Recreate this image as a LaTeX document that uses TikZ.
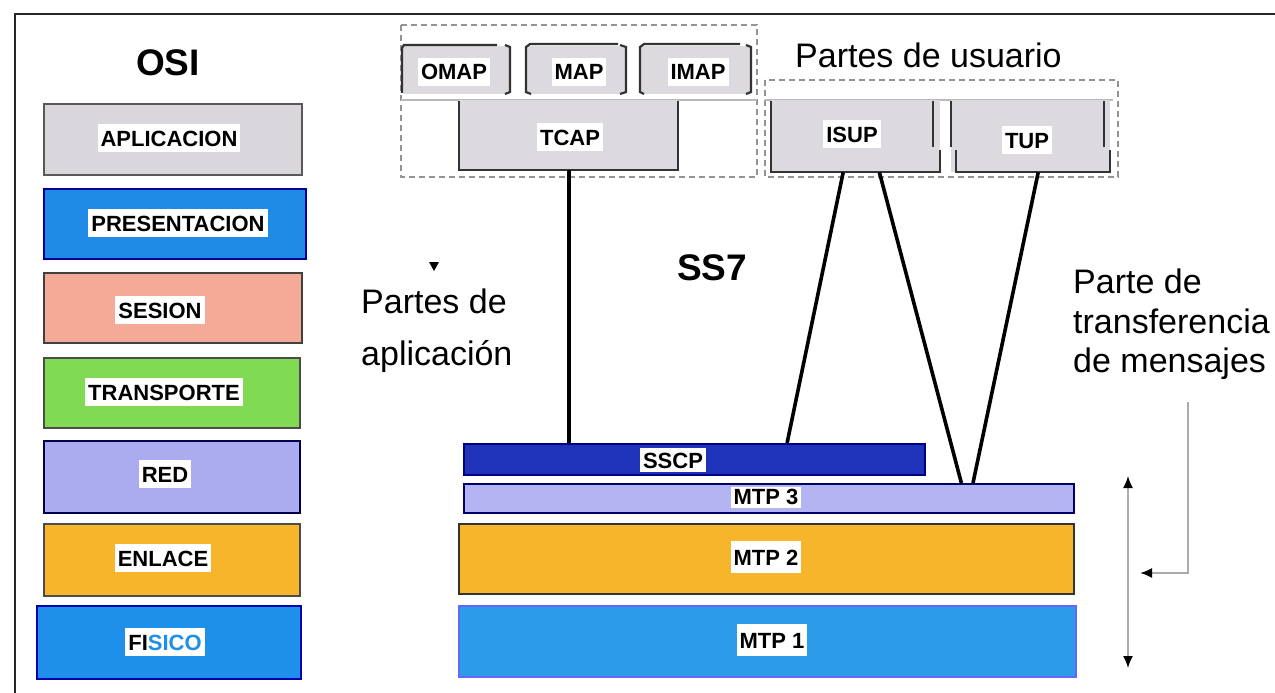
\documentclass[tikz,border=0pt]{standalone}
\usepackage{fontspec}
\setmainfont{Liberation Sans}
\usetikzlibrary{calc,arrows.meta}
\definecolor{aplgray}{HTML}{D9D7DB}
\definecolor{presblue}{HTML}{1F8BE6}
\definecolor{sesion}{HTML}{F5AA97}
\definecolor{transp}{HTML}{80DB52}
\definecolor{redlav}{HTML}{ABABF0}
\definecolor{enlace}{HTML}{F6B52B}
\definecolor{fisico}{HTML}{1E90EA}
\definecolor{sscp}{HTML}{1F33BA}
\definecolor{mtpthree}{HTML}{B4B4F2}
\definecolor{mtpone}{HTML}{2C9BEA}
\definecolor{boxgray}{HTML}{DCDADE}
\begin{document}
\begin{tikzpicture}[x=1pt,y=-1pt,
  >={Latex[black,length=12pt,width=10pt]},
  layerbox/.style={draw=#1, line width=2pt, inner sep=0pt, anchor=north west},
  grayfill/.style={fill=boxgray, draw=none, inner sep=0pt, anchor=north west},
  lbl/.style={fill=white, inner xsep=3pt, inner ysep=6pt, text height=16pt, text depth=0pt,
              font=\fontsize{22}{26}\selectfont\bfseries},
  big/.style={font=\fontsize{37}{44}\selectfont\bfseries, inner sep=0pt},
  txt/.style={font=\fontsize{34}{40}\selectfont, inner sep=0pt, anchor=base west},
  conn/.style={line width=3.6pt, black},
  grp/.style={draw=gray!85, dash pattern=on 6pt off 4pt, line width=1.3pt},
  edge/.style={draw=black!80, line width=2.2pt},
  sep/.style={draw=gray!55, line width=2pt}]
\useasboundingbox (0,0) rectangle (1275,693);
\fill[white] (0,0) rectangle (1275,693);
% frame
\draw[line width=2.4pt, black!85] (15,693) -- (15,14) -- (1275,14);

% OSI column
\node[big] (osi) at (168,63) {OSI};
\node[layerbox=black!65, fill=aplgray, minimum width=258pt, minimum height=71pt] (apl) at (43,103) {};
\node[layerbox=blue!60!black, fill=presblue, minimum width=262pt, minimum height=70pt] (pres) at (43,188) {};
\node[layerbox=black!75, fill=sesion, minimum width=258pt, minimum height=70pt] (ses) at (43,272) {};
\node[layerbox=black!70, fill=transp, minimum width=256pt, minimum height=70pt] (tra) at (43,357) {};
\node[layerbox=blue!30!black, fill=redlav, minimum width=256pt, minimum height=72pt] (red) at (43,440) {};
\node[layerbox=black!70, fill=enlace, minimum width=256pt, minimum height=72pt] (enl) at (43,523) {};
\node[layerbox=blue!70!black, fill=fisico, minimum width=264pt, minimum height=73pt] (fis) at (36,605) {};
\node[lbl] (aplT) at (169,138) {APLICACION};
\node[lbl] (presT) at (178,223) {PRESENTACION};
\node[lbl] (sesT) at (160,310) {SESION};
\node[lbl] (traT) at (164,392) {TRANSPORTE};
\node[lbl] (redT) at (165,474) {RED};
\node[lbl] (enlT) at (163,558) {ENLACE};
\node[lbl] (fisT) at (165,642) {FI\textcolor{fisico}{SICO}};

% application parts group
\draw[grp] (401,25) rectangle (757,177);
\draw[sep] (401,100) -- (757,100);
\node[grayfill, minimum width=107pt, minimum height=48pt] (omap) at (403,46) {};
\node[grayfill, minimum width=100pt, minimum height=48pt] (map) at (526,46) {};
\node[grayfill, minimum width=111pt, minimum height=48pt] (imap) at (640,46) {};
\draw[edge] (402,93) -- (402,48) -- (404,45) -- (497,45);
\draw[edge] (505,45) -- (510,47) -- (510,92) -- (505,94);
\draw[edge] (531,94) -- (526,92) -- (526,47) -- (530,44) -- (618,44);
\draw[edge] (620,45) -- (626,47) -- (626,92) -- (620,94);
\draw[edge] (644,94) -- (640,92) -- (640,47) -- (644,44) -- (740,44);
\draw[edge] (746,45) -- (751,47) -- (751,92) -- (746,94);
\node[lbl] (omapT) at (454,72) {OMAP};
\node[lbl] (mapT) at (579,72) {MAP};
\node[lbl] (imapT) at (698,72) {IMAP};
\node[grayfill, minimum width=219pt, minimum height=70pt] (tcap) at (459,100) {};
\draw[edge] (459,101) |- (678,170) -- (678,101);
\node[lbl] (tcapT) at (570,137) {TCAP};

% user parts group
\node[txt] (pu) at (795,67) {Partes de usuario};
\draw[grp] (765,80) rectangle (1118,177);
\draw[sep] (765,100) -- (1113,100);
\node[grayfill, minimum width=169pt, minimum height=72pt] (isup) at (771,100) {};
\node[grayfill, minimum width=159pt, minimum height=72pt] (tup) at (951,100) {};
\draw[edge] (771,101) |- (940,172) -- (940,150);
\draw[edge] (933,101) -- (933,147);
\draw[edge] (951,101) -- (951,147);
\draw[edge] (956,150) |- (1110,172) -- (1110,150);
\draw[edge] (1104,101) -- (1104,147);
\node[lbl] (isupT) at (852,134) {ISUP};
\node[lbl] (tupT) at (1027,140) {TUP};

% SS7 labels
\node[big] (ss7) at (712,268) {SS7};
\fill (429,262) -- (439,262) -- (434,271) -- cycle;
\node[txt] (pa1) at (361,313) {Partes de};
\node[txt] (pa2) at (361,365) {aplicación};
\node[txt] (mt1) at (1073,293) {Parte de};
\node[txt] (mt2) at (1073,333) {transferencia};
\node[txt] (mt3) at (1073,372) {de mensajes};

% SS7 lower layers
\node[layerbox=blue!50!black, fill=sscp, minimum width=461pt, minimum height=31pt] (sscp) at (463,443) {};
\node[layerbox=blue!40!black, fill=mtpthree, minimum width=610pt, minimum height=29pt, line width=1.5pt] (mtp3) at (463,483) {};
\node[layerbox=black!80, fill=enlace, minimum width=615pt, minimum height=70pt] (mtp2) at (458,523) {};
\node[layerbox=blue!60, fill=mtpone, minimum width=617pt, minimum height=71pt] (mtp1) at (458,605) {};
\node[lbl, inner ysep=4pt] (sscpT) at (673,460) {SSCP};
\node[lbl, inner ysep=3pt, text height=15pt] (mtp3T) at (766,497) {MTP 3};
\node[lbl, inner ysep=8pt] (mtp2T) at (766,557) {MTP 2};
\node[lbl, inner ysep=8pt] (mtp1T) at (772,640) {MTP 1};

% connectors
\draw[conn] (tcap.south) -- (tcap.south |- sscp.north);
\draw[conn] ($(isup.south west)!0.426!(isup.south east)$) -- ($(sscp.north west)!0.70!(sscp.north east)$);
\draw[conn] ($(isup.south west)!0.64!(isup.south east)$) -- ($(mtp3.north west)!0.815!(mtp3.north east)$);
\draw[conn] ($(tup.south west)!0.547!(tup.south east)$) -- ($(mtp3.north west)!0.834!(mtp3.north east)$);

% right arrows
\coordinate (aT) at (1128,476);
\coordinate (aB) at (1128,668);
\draw[gray!65, line width=1.6pt, <->] (aT) -- (aB);
\coordinate (bT) at (1188,402);
\coordinate (bE) at (1140,573);
\draw[gray!65, line width=2pt, ->] (bT) |- (bE);
\end{tikzpicture}
\end{document}
